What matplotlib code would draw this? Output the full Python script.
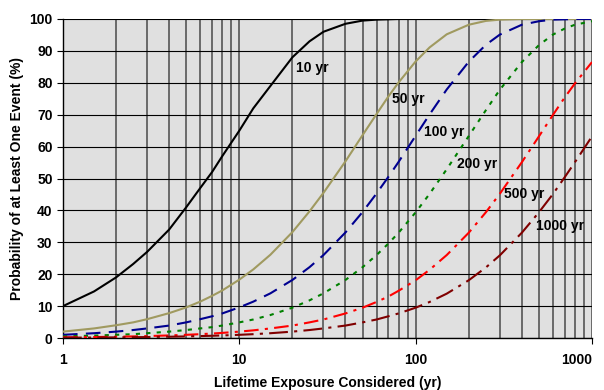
import matplotlib.pyplot as plt
from matplotlib.ticker import FixedLocator, NullFormatter

plt.rcParams['font.family'] = ['Liberation Sans', 'DejaVu Sans']
plt.rcParams['font.weight'] = 'bold'

# Exposicao (anos) e probabilidades
anos = [1, 1.5, 2, 2.5, 3, 4, 5, 6, 7, 8, 10, 12, 15, 20, 25, 30, 40, 50, 60, 70, 80,
        100, 120, 150, 200, 250, 300, 400, 500, 600, 700, 800, 1000]
p10 = [10, 14.6, 19, 23.2, 27, 34, 41, 47, 52, 57, 65, 72, 79, 88, 93, 96, 98.5, 99.5, 99.8, 99.9, 100,
       100, 100, 100, 100, 100, 100, 100, 100, 100, 100, 100, 100]
p50 = [2, 3, 4, 4.9, 5.9, 7.8, 9.6, 11.4, 13.2, 14.9, 18.3, 21.5, 26.1, 33.2, 39.7, 45.5, 55.4, 63.6, 70.2, 75.7, 80.1,
       86.7, 91.1, 95.2, 98.2, 99.4, 99.8, 100, 100, 100, 100, 100, 100]
p100 = [1, 1.5, 2, 2.5, 3, 3.9, 4.9, 5.9, 6.8, 7.7, 9.6, 11.4, 14, 18.2, 22.2, 26, 33.1, 39.5, 45.3, 50.5, 55.2,
        63.4, 70.1, 77.9, 86.6, 91.9, 95.1, 98.2, 99.3, 99.8, 99.9, 100, 100]
p200 = [0.5, 0.75, 1, 1.2, 1.5, 2, 2.5, 3, 3.4, 3.9, 4.9, 5.8, 7.2, 9.5, 11.8, 14, 18.2, 22.2, 26, 29.6, 33,
        39.4, 45.2, 52.9, 63.3, 71.4, 77.8, 86.5, 91.8, 95.1, 97, 98.2, 99.3]
p500 = [0.2, 0.3, 0.4, 0.5, 0.6, 0.8, 1, 1.2, 1.4, 1.6, 2, 2.4, 3, 3.9, 4.9, 5.8, 7.7, 9.5, 11.3, 13, 14.8,
        18.1, 21.4, 26, 33, 39.4, 45.2, 55.1, 63.2, 69.9, 75.4, 79.8, 86.5]
p1000 = [0.1, 0.15, 0.2, 0.25, 0.3, 0.4, 0.5, 0.6, 0.7, 0.8, 1, 1.2, 1.5, 2, 2.5, 3, 3.9, 4.9, 5.8, 6.8, 7.7,
         9.5, 11.3, 13.9, 18.1, 22.1, 25.9, 33, 39.4, 45.1, 50.4, 55.1, 63.2]

series = [
    ('10 yr', p10, 'black', '-', (21, 84.5)),
    ('50 yr', p50, '#a09a60', '-', (73, 75)),
    ('100 yr', p100, '#000090', (0, (7, 4)), (112, 64.5)),
    ('200 yr', p200, '#008000', (0, (2, 3)), (171, 54.5)),
    ('500 yr', p500, '#ff0000', (0, (7, 3, 1.5, 3)), (316, 45)),
    ('1000 yr', p1000, '#800000', (0, (9, 3, 1.5, 3)), (480, 35)),
]

fig = plt.figure(figsize=(6.04, 3.9), dpi=100)
ax = fig.add_axes([63 / 604, 1 - 338 / 390, 529 / 604, 319 / 390])
ax.set_facecolor('#e0e0e0')

for nome, valores, cor, estilo, pos in series:
    ax.plot(anos, valores, color=cor, linestyle=estilo, linewidth=1.5, zorder=3)
    ax.text(pos[0], pos[1], nome, fontsize=10, fontweight='bold', va='center', ha='left', zorder=4)

ax.set_xscale('log')
ax.set_xlim(1, 1000)
ax.set_ylim(0, 100)
ax.set_yticks(range(0, 101, 10))
ax.set_xticks([1, 10, 100, 1000])
ax.set_xticklabels(['1', '10', '100', '1000'])
minors = [m * d for d in [1, 10, 100] for m in range(2, 10)]
ax.xaxis.set_minor_locator(FixedLocator(minors))
ax.xaxis.set_minor_formatter(NullFormatter())

# Grade: verticais cinza, horizontais pretas
ax.grid(True, axis='x', which='both', color='#606060', linewidth=1.3, zorder=1)
ax.grid(True, axis='y', color='black', linewidth=0.8, zorder=1)
ax.set_axisbelow(True)

for lado in ['top', 'right']:
    ax.spines[lado].set_visible(False)
ax.spines['left'].set_linewidth(1)
ax.spines['bottom'].set_linewidth(1)

ax.tick_params(axis='both', which='major', labelsize=10, length=4, direction='out')
ax.tick_params(axis='x', which='minor', length=0)
ax.tick_params(axis='x', pad=7)

# O "1000" fica colado na borda direita
ax.get_xticklabels()[-1].set_horizontalalignment('right')
ax.get_xticklabels()[-1].set_x(1000)

ax.set_xlabel('Lifetime Exposure Considered (yr)', fontsize=10, fontweight='bold', labelpad=6)
ax.set_ylabel('Probability of at Least One Event (%)', fontsize=10, fontweight='bold', labelpad=4)

fig.savefig('out.png', dpi=100)
